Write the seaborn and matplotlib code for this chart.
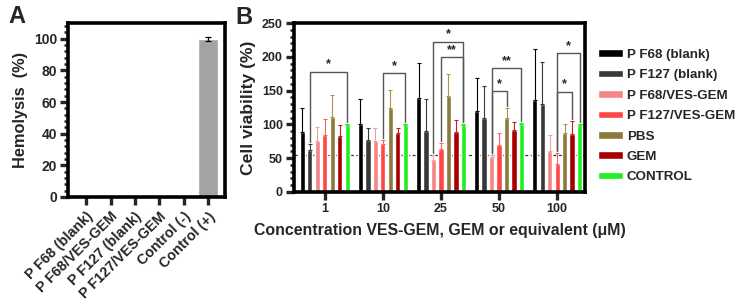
import pandas as pd
import matplotlib
matplotlib.use('Agg')
import matplotlib.pyplot as plt
from matplotlib.ticker import MultipleLocator
import seaborn as sns

# ---- panel A: hemolysis ----
hemo_labels = ['P F68 (blank)', 'P F68/VES-GEM', 'P F127 (blank)',
               'P F127/VES-GEM', 'Control (-)', 'Control (+)']
hemo_values = [0, 0, 0, 0, 0, 100]
hemo_err = [0, 0, 0, 0, 0, 1.2]

# ---- panel B: cell viability ----
conc_labels = ['1', '10', '25', '50', '100']
series_names = ['P F68 (blank)', 'P F127 (blank)', 'P F68/VES-GEM',
                'P F127/VES-GEM', 'PBS', 'GEM', 'CONTROL']
pf68_blank = [89, 101, 139, 120, 136]
pf127_blank = [62, 77, 90, 109, 130]
pf68_ves = [76, 76, 47, 52, 61]
pf127_ves = [84, 71, 64, 70, 42]
pbs = [111, 124, 142, 109, 88]
gem = [83, 87, 89, 92, 86]
control = [99, 99, 99, 100, 99]

pf68_blank_err = [35, 37, 52, 49, 75]
pf127_blank_err = [9, 17, 47, 48, 62]
pf68_ves_err = [20, 18, 8, 3, 23]
pf127_ves_err = [24, 6, 8, 18, 15]
pbs_err = [32, 27, 33, 15, 13]
gem_err = [16, 7, 18, 12, 19]
control_err = [2, 2, 2, 2, 2]

# significance brackets: (group, left series, right series, height, label)
brackets = [
    (0, 1, 6, 178, '*'),
    (1, 3, 6, 176, '*'),
    (2, 2, 6, 222, '*'),
    (2, 3, 6, 199, '**'),
    (3, 2, 6, 183, '**'),
    (3, 2, 4, 149, '*'),
    (4, 3, 6, 205, '*'),
    (4, 3, 5, 148, '*'),
]

colors = ['#000000', '#383838', '#f58585', '#ff4545', '#8c7a3c', '#a80000', '#1ef01e']
err_colors = ['#000000', '#383838', '#f5a0a0', '#ff6060', '#a89650', '#c02020', '#1ef01e']

values = [pf68_blank, pf127_blank, pf68_ves, pf127_ves, pbs, gem, control]
errors = [pf68_blank_err, pf127_blank_err, pf68_ves_err, pf127_ves_err,
          pbs_err, gem_err, control_err]

rows = []
for name, vals in zip(series_names, values):
    for c, v in zip(conc_labels, vals):
        rows.append({'conc': c, 'viability': v, 'series': name})
df_b = pd.DataFrame(rows)
df_a = pd.DataFrame({'sample': hemo_labels, 'hemolysis': hemo_values})

sns.set_style('ticks')
plt.rcParams['font.family'] = ['Liberation Sans', 'DejaVu Sans']
plt.rcParams['font.weight'] = 'bold'
plt.rcParams['axes.labelweight'] = 'bold'

fig = plt.figure(figsize=(7.39, 3.05), dpi=100)
axA = fig.add_axes([68 / 739, 1 - 197 / 305, 157 / 739, 174 / 305])
axB = fig.add_axes([294 / 739, 1 - 192 / 305, 291 / 739, 169 / 305])

# panel A
sns.barplot(data=df_a, x='sample', y='hemolysis', color='#a3a3a3',
            saturation=1, width=0.8, errorbar=None, ax=axA)
for bar, e in zip(list(axA.patches), hemo_err):
    if e > 0:
        axA.errorbar(bar.get_x() + bar.get_width() / 2, bar.get_height(),
                     yerr=e, color='black', capsize=2.5, lw=0.9, capthick=0.9)
axA.set_ylim(0, 110)
axA.set_xlim(-0.75, 5.7)
axA.yaxis.set_major_locator(MultipleLocator(20))
axA.yaxis.set_minor_locator(MultipleLocator(4))
axA.set_ylabel('Hemolysis  (%)', fontsize=11.8, labelpad=4)
axA.set_xlabel('')
axA.set_xticks(range(len(hemo_labels)))
axA.set_xticklabels(hemo_labels, rotation=45, ha='right', rotation_mode='anchor',
                    fontsize=10.3)

# panel B
sns.barplot(data=df_b, x='conc', y='viability', hue='series', hue_order=series_names,
            palette=colors, saturation=1, width=0.9, gap=0.3, errorbar=None, ax=axB)
bar_groups = list(axB.containers)
for i, cont in enumerate(bar_groups):
    for bar, e in zip(cont, errors[i]):
        axB.errorbar(bar.get_x() + bar.get_width() / 2, bar.get_height(),
                     yerr=[[0], [e]], color=err_colors[i], capsize=1.2,
                     lw=0.8, capthick=0.8)

for g, s1, s2, h, lab in brackets:
    b1 = bar_groups[s1][g]
    b2 = bar_groups[s2][g]
    x1 = b1.get_x() + b1.get_width() / 2
    x2 = b2.get_x() + b2.get_width() / 2
    y1 = b1.get_height() + errors[s1][g] + 3
    y2 = b2.get_height() + errors[s2][g] + 3
    axB.plot([x1, x1, x2, x2], [y1, h, h, y2], color='#555555', lw=1)
    axB.text((x1 + x2) / 2, h + 2, lab, ha='center', va='bottom', fontsize=9)

axB.axhline(55, color='#333333', ls=(0, (2.5, 2)), lw=0.9, zorder=0.5)
axB.set_ylim(0, 250)
axB.set_xlim(-0.53, 4.48)
axB.yaxis.set_major_locator(MultipleLocator(50))
axB.yaxis.set_minor_locator(MultipleLocator(10))
axB.set_ylabel('Cell viability (%)', fontsize=12.6, labelpad=4)
axB.set_xlabel('Concentration VES-GEM, GEM or equivalent (\u03bcM)', fontsize=11.4, labelpad=6)

handles, labels = axB.get_legend_handles_labels()
axB.legend(handles[:7], labels[:7], loc='upper left', bbox_to_anchor=(598 / 739, 1 - 49 / 305),
           bbox_transform=fig.transFigure, frameon=False, borderpad=0, borderaxespad=0,
           handlelength=1.85, handleheight=0.5, handletextpad=0.3, labelspacing=0.63,
           prop={'size': 9.6, 'weight': 'bold'})

for ax in (axA, axB):
    for sp in ax.spines.values():
        sp.set_visible(True)
        sp.set_linewidth(2.6)
        sp.set_color('black')
    ax.tick_params(axis='both', which='major', width=2.4, length=6,
                   direction='out', pad=2)
    ax.tick_params(axis='y', which='minor', width=1.8, length=3, direction='out')
    ax.tick_params(axis='x', which='minor', bottom=False)
axA.tick_params(axis='y', labelsize=10)
axA.tick_params(axis='x', pad=3)
axB.tick_params(axis='both', labelsize=9)
for lbl in axA.get_xticklabels() + axA.get_yticklabels() + axB.get_xticklabels() + axB.get_yticklabels():
    lbl.set_fontweight('bold')

fig.text(8 / 739, 1 - 23 / 305, 'A', fontsize=17, fontweight='bold')
fig.text(235 / 739, 1 - 24 / 305, 'B', fontsize=17, fontweight='bold')

fig.savefig('out.png', dpi=100)
